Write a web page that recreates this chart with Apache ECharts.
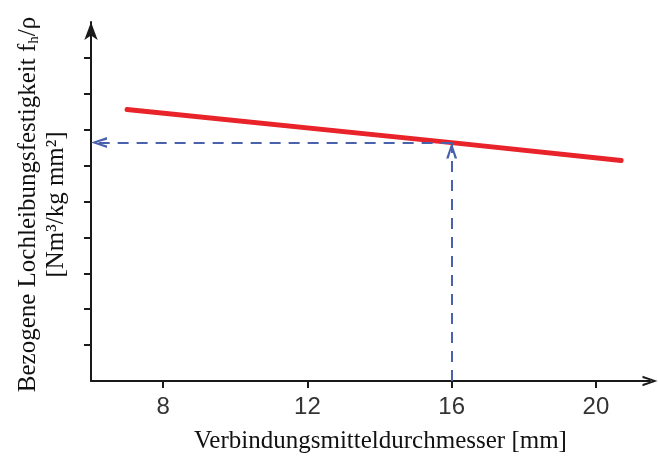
<!DOCTYPE html>
<html>
<head>
<meta charset="utf-8">
<script src="https://cdn.jsdelivr.net/npm/echarts@6/dist/echarts.min.js"></script>
<style>
html,body{margin:0;padding:0;background:#fff;}
#chart{width:658px;height:459px;}
</style>
</head>
<body>
<div id="chart"></div>
<script>
// ---- data ----
const xTickValues = [8, 12, 16, 20];
const yTickValues = [1, 2, 3, 4, 5, 6, 7, 8, 9];
const lineX = [7, 16, 20.7];
const lineY = [7.56, 6.64, 6.14];
const readX = [16];
const readY = [6.64];
const xAxisMin = 6, xAxisMax = 21.5;
const yAxisMin = 0, yAxisMax = 10;
const xTitle = 'Verbindungsmitteldurchmesser [mm]';
const yTitleLine1 = ['Bezogene Lochleibungsfestigkeit f', 'h', '/ρ'];
const yTitleLine2 = '[Nm³/kg mm²]';

const chevron = 'path://M5,0 L10,14 L7.7,14 L5,5 L2.3,14 L0,14 Z';
const serif = '"Liberation Serif", "DejaVu Serif", serif';

const chart = echarts.init(document.getElementById('chart'));
const lineData = lineX.map((x, i) => [x, lineY[i]]);

chart.setOption({
  animation: false,
  backgroundColor: '#fff',
  grid: { left: 91, right: 8, top: 22, bottom: 77, containLabel: false },
  xAxis: {
    type: 'value', min: xAxisMin, max: xAxisMax,
    splitLine: { show: false },
    axisLine: { show: true, lineStyle: { color: '#1a1a1a', width: 2 },
      symbol: ['none', chevron], symbolSize: [13, 15], symbolOffset: [0, 0] },
    axisTick: { show: true, length: 7, lineStyle: { color: '#1a1a1a', width: 2 }, customValues: xTickValues },
    axisLabel: { show: true, customValues: xTickValues, fontSize: 24, color: '#333',
      fontFamily: '"Liberation Sans", Arial, sans-serif', margin: 14 },
    name: xTitle, nameLocation: 'middle', nameGap: 48,
    nameTextStyle: { fontFamily: serif, fontSize: 25, color: '#111', padding: [0, 0, 0, 20] }
  },
  yAxis: {
    type: 'value', min: yAxisMin, max: yAxisMax,
    splitLine: { show: false },
    axisLine: { show: true, lineStyle: { color: '#1a1a1a', width: 2 },
      symbol: ['none', 'arrow'], symbolSize: [10, 18], symbolOffset: [0, 0] },
    axisTick: { show: true, length: 7, lineStyle: { color: '#1a1a1a', width: 2 }, customValues: yTickValues },
    axisLabel: { show: false },
    name: '{a|' + yTitleLine1[0] + '}{s|' + yTitleLine1[1] + '}{a|' + yTitleLine1[2] + '}\n{a|' + yTitleLine2 + '}',
    nameLocation: 'middle', nameGap: 21, nameRotate: 90,
    nameTextStyle: {
      fontFamily: serif, color: '#111', fontSize: 25, padding: [0, 6, 0, 0],
      rich: {
        a: { fontFamily: serif, fontSize: 25, lineHeight: 28, color: '#111' },
        s: { fontFamily: serif, fontSize: 15, lineHeight: 14, verticalAlign: 'bottom', color: '#111' }
      }
    }
  },
  series: [
    {
      type: 'line', data: lineData, showSymbol: false, symbol: 'none',
      lineStyle: { color: '#e8232a', width: 5, cap: 'round' },
      z: 3, silent: true
    },
    {
      type: 'line', data: [], silent: true, z: 4,
      markLine: {
        silent: true, animation: false,
        symbol: ['none', chevron], symbolSize: [11, 16], symbolOffset: [0, [0, 8]],
        label: { show: false },
        lineStyle: { color: '#4a62ad', width: 2, type: [11, 8] },
        emphasis: { disabled: true },
        data: [
          [{ coord: [readX[0], yAxisMin] }, { coord: [readX[0], readY[0]] }],
          [{ coord: [readX[0], readY[0]] }, { coord: [xAxisMin, readY[0]] }]
        ]
      }
    }
  ]
});
</script>
</body>
</html>
